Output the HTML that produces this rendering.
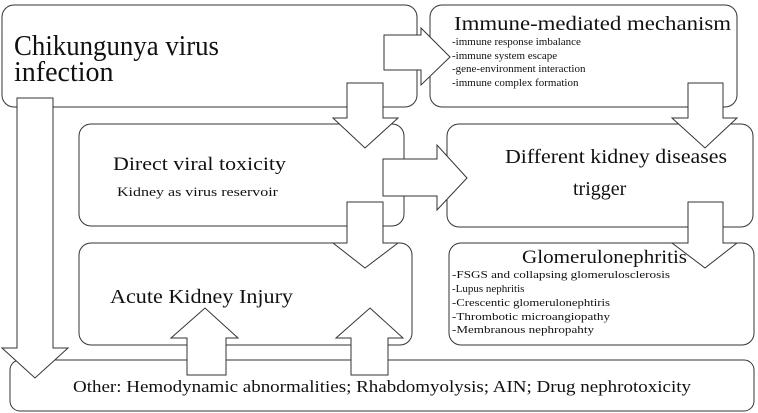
<!DOCTYPE html>
<html><head><meta charset="utf-8"><style>html,body{margin:0;padding:0;background:#fff}svg{display:block}</style></head>
<body>
<svg width="758" height="413" viewBox="0 0 758 413" xmlns="http://www.w3.org/2000/svg" font-family="Liberation Serif, serif" fill="#111">
<g fill="#fff" stroke="#333" stroke-width="1">
<rect x="2" y="5" width="415" height="102" rx="12"/>
<rect x="430" y="5" width="307" height="102" rx="12"/>
<rect x="79" y="124" width="325" height="102" rx="12"/>
<rect x="447" y="124" width="306" height="103" rx="12"/>
<rect x="79" y="243" width="333" height="102" rx="12"/>
<rect x="449" y="243" width="305" height="102" rx="12"/>
<rect x="10" y="360" width="744" height="51" rx="10"/>
<!-- arrows -->
<polygon points="384,35 421,35 421,28 450,57 421,85 421,70 384,70"/>
<polygon points="347,83 383,83 383,118 398,118 365,148 333,118 347,118"/>
<polygon points="383,159 437,159 437,145 467,178 437,210 437,196 383,196"/>
<polygon points="347,202 383,202 383,243 398,243 365,268 333,243 347,243"/>
<polygon points="688,83 723,83 723,118 737,118 705,148 672,118 688,118"/>
<polygon points="688,202 723,202 723,243 737,243 705,268 672,243 688,243"/>
<polygon points="17,98 53,98 53,348 68,348 35,378 2,348 17,348"/>
<polygon points="187,375 226,375 226,338 238,338 205,308 171,338 187,338"/>
<polygon points="351,375 388,375 388,338 403,338 370,308 336,338 351,338"/>
</g>
<text x="14" y="55" font-size="28" textLength="205" lengthAdjust="spacingAndGlyphs">Chikungunya virus</text>
<text x="14" y="81" font-size="28">infection</text>
<text x="454" y="30" font-size="20" textLength="277" lengthAdjust="spacingAndGlyphs">Immune-mediated mechanism</text>
<g font-size="11">
<text x="452" y="45">-immune response imbalance</text>
<text x="452" y="59">-immune system escape</text>
<text x="452" y="72">-gene-environment interaction</text>
<text x="452" y="86">-immune complex formation</text>
</g>
<text x="113" y="170" font-size="19" textLength="173" lengthAdjust="spacingAndGlyphs">Direct viral toxicity</text>
<text x="117" y="196" font-size="13" textLength="161" lengthAdjust="spacingAndGlyphs">Kidney as virus reservoir</text>
<text x="505" y="163" font-size="20" textLength="222" lengthAdjust="spacingAndGlyphs">Different kidney diseases</text>
<text x="573" y="195" font-size="20">trigger</text>
<text x="110" y="303" font-size="20" textLength="183" lengthAdjust="spacingAndGlyphs">Acute Kidney Injury</text>
<text x="522" y="263" font-size="19" textLength="165" lengthAdjust="spacingAndGlyphs">Glomerulonephritis</text>
<g font-size="11">
<text x="452" y="278" textLength="218" lengthAdjust="spacingAndGlyphs">-FSGS and collapsing glomerulosclerosis</text>
<text x="452" y="292">-Lupus nephritis</text>
<text x="452" y="306" textLength="158" lengthAdjust="spacingAndGlyphs">-Crescentic glomerulonephtiris</text>
<text x="452" y="320" textLength="158" lengthAdjust="spacingAndGlyphs">-Thrombotic microangiopathy</text>
<text x="452" y="333" textLength="142" lengthAdjust="spacingAndGlyphs">-Membranous nephropahty</text>
</g>
<text x="73" y="392" font-size="17" textLength="618" lengthAdjust="spacingAndGlyphs">Other: Hemodynamic abnormalities; Rhabdomyolysis; AIN; Drug nephrotoxicity</text>
</svg>
</body></html>
